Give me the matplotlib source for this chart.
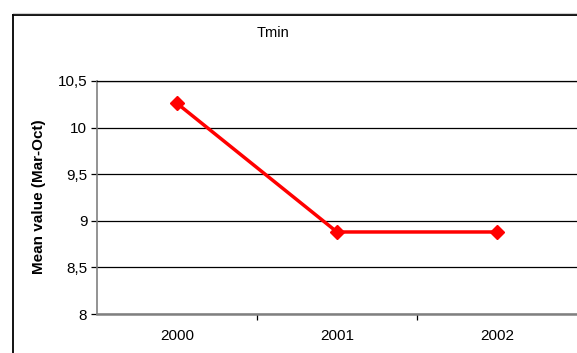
import matplotlib
matplotlib.use("Agg")
import matplotlib.pyplot as plt
from matplotlib.ticker import FuncFormatter, FixedLocator
from matplotlib.lines import Line2D

plt.rcParams['font.family'] = ['Liberation Sans', 'DejaVu Sans']

years = ["2000", "2001", "2002"]
tmin = [10.26, 8.88, 8.88]
y_ticks = [8, 8.5, 9, 9.5, 10, 10.5]

W, H = 577, 353
fig = plt.figure(figsize=(W / 100, H / 100), dpi=100)
fig.patch.set_facecolor('white')

# outer chart border (left and top edges)
fig.add_artist(Line2D([12.5 / W, 12.5 / W], [0, 1 - 14.5 / H], color='black', lw=1.3))
fig.add_artist(Line2D([12.5 / W, 1], [1 - 14.5 / H, 1 - 14.5 / H], color='black', lw=1.3))
fig.add_artist(Line2D([12.5 / W, 1], [1 - 13 / H, 1 - 13 / H], color='#d0d0d0', lw=0.8))

ax = fig.add_axes([97 / W, (H - 314) / H, (W - 97) / W, (314 - 81) / H])

x = list(range(len(years)))
ax.plot(x, tmin, color='#ff0000', lw=2.5, marker='D', markersize=7.2,
        markeredgecolor='#ff0000', zorder=5, clip_on=False)

ax.set_xlim(-0.5, len(years) - 0.5)
ax.set_ylim(8, 10.5)

ax.yaxis.set_major_locator(FixedLocator(y_ticks))
ax.yaxis.set_major_formatter(FuncFormatter(lambda v, p: f"{v:g}".replace('.', ',')))
ax.yaxis.grid(True, color='black', lw=0.9)
ax.set_axisbelow(True)

ax.xaxis.set_major_locator(FixedLocator([i + 0.5 for i in x[:-1]]))
ax.xaxis.set_major_formatter(FuncFormatter(lambda v, p: ""))
ax.xaxis.set_minor_locator(FixedLocator(x))
ax.set_xticklabels(years, minor=True)
ax.tick_params(axis='x', which='minor', length=0, pad=11, labelsize=11)
ax.tick_params(axis='x', which='major', length=4, width=0.9, color='black', direction='out')
ax.tick_params(axis='y', length=4, width=0.9, color='black', pad=3, labelsize=11)

ax.spines['right'].set_visible(False)
ax.spines['top'].set_color('black')
ax.spines['top'].set_linewidth(0.9)
ax.spines['left'].set_color('#808080')
ax.spines['left'].set_linewidth(1.2)
ax.spines['bottom'].set_color('#808080')
ax.spines['bottom'].set_linewidth(1.8)

fig.text(273 / W, 1 - 33 / H, "Tmin", ha='center', va='center', fontsize=10.5)
fig.text(39 / W, 1 - 197 / H, "Mean value (Mar-Oct)", rotation=90, ha='center',
         va='center', fontsize=11, fontweight='bold')

fig.savefig("out.png", dpi=100, facecolor='white')
